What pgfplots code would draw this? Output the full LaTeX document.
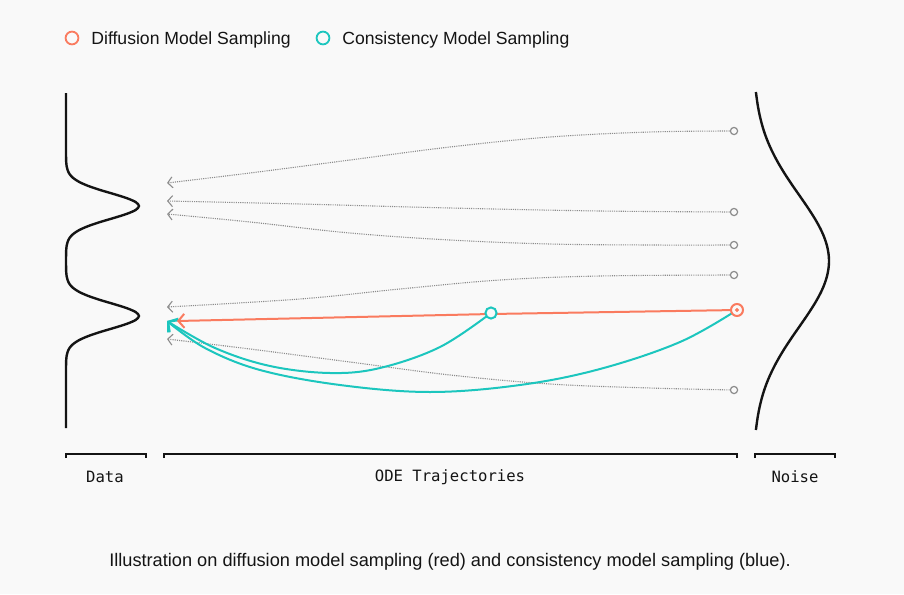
\documentclass[border=0pt]{standalone}
\usepackage{pgfplots}
\pgfplotsset{compat=1.18}
\usepackage{fontspec}
\setmainfont{Liberation Sans}
\newfontfamily\monofont{DejaVu Sans Mono}
\usetikzlibrary{arrows.meta}
\definecolor{bg}{HTML}{F9F9F9}
\definecolor{coral}{HTML}{FA7B5F}
\definecolor{teal2}{HTML}{1CC6BE}
\definecolor{traj}{HTML}{8C8C8C}
\definecolor{ink}{HTML}{141414}
\begin{document}
\begin{tikzpicture}
\begin{axis}[scale only axis, width=452pt, height=297pt,
  xmin=0, xmax=904, ymin=0, ymax=594, y dir=reverse,
  hide axis, clip=false]
\fill[bg] (axis cs:0,0) rectangle (axis cs:904,594);
% ODE trajectories (gray dotted)
\pgfplotsset{trajstyle/.style={traj, line width=0.55pt, dash pattern=on 0.55pt off 0.55pt, smooth, tension=0.6, -{Straight Barb[length=2.4pt,width=5.5pt,line width=0.55pt]}}}
\addplot[trajstyle] coordinates {(734,131) (650,132) (550,137) (450,147) (350,160) (250,173) (167,183)};
\addplot[trajstyle] coordinates {(734,212) (600,211) (450,208) (300,204) (167,201)};
\addplot[trajstyle] coordinates {(734,245) (650,245) (550,244) (450,240) (350,233) (250,222) (167,214)};
\addplot[trajstyle] coordinates {(734,275) (600,276) (500,280) (400,289) (300,299) (167,307)};
\addplot[trajstyle] coordinates {(734,390) (650,388) (550,384) (450,375) (350,362) (250,349) (167,339)};
% consistency model (teal)
\addplot[teal2, line width=1pt, smooth, tension=0.6, -{Straight Barb[length=3.5pt,width=8pt,line width=1pt]}] coordinates {(491,313) (440,347) (380,368) (330,373) (270,366) (215,348) (167,321)};
\addplot[teal2, line width=1pt, smooth, tension=0.6, -{Straight Barb[length=3.5pt,width=8pt,line width=1pt]}] coordinates {(737,310) (680,342) (600,369) (520,385) (430,392) (340,385) (260,370) (205,348) (167,321)};
% diffusion model (coral)
\addplot[coral, line width=1pt, -{Straight Barb[length=3pt,width=7pt,line width=1pt]}] coordinates {(737,310) (491,314) (177,321)};
% start markers
\addplot[only marks, mark=*, mark size=1.8pt, mark options={draw=traj, fill=bg, line width=0.6pt}] coordinates {(734,131) (734,212) (734,245) (734,275) (734,390)};
\addplot[only marks, mark=*, mark size=2.8pt, mark options={draw=teal2, fill=bg, line width=1pt}] coordinates {(491,313)};
\addplot[only marks, mark=*, mark size=3pt, mark options={draw=coral, fill=bg, line width=1pt}] coordinates {(737,310)};
\addplot[only marks, mark=*, mark size=0.8pt, mark options={draw=coral, fill=coral}] coordinates {(737,310)};
% data distribution
\addplot[ink, line width=1.2pt, smooth, tension=0.5] coordinates {(66,93) (66,150) (66.2,162) (66.6,166) (67.6,170) (69.5,174) (73.2,178) (79.3,182) (88.4,186) (100.2,190) (113.7,194) (126.4,198) (135.6,202) (139,206) (135.6,210) (126.4,214) (113.7,218) (100.2,222) (88.4,226) (79.3,230) (73.2,234) (69.5,238) (67.6,242) (66.6,246) (66.2,250) (66,261) (66.2,272) (66.6,276) (67.6,280) (69.5,284) (73.2,288) (79.3,292) (88.4,296) (100.2,300) (113.7,304) (126.4,308) (135.6,312) (139,316) (135.6,320) (126.4,324) (113.7,328) (100.2,332) (88.4,336) (79.3,340) (73.2,344) (69.5,348) (67.6,352) (66.6,356) (66.2,360) (66,372) (66,428)};
% noise distribution
\addplot[ink, line width=1.2pt, smooth, tension=0.6] coordinates {(755.9,92) (757.7,105) (760.3,118) (763.9,131) (768.8,144) (775,157) (782.4,170) (790.8,183) (799.8,196) (808.7,209) (816.8,222) (823.3,235) (827.5,248) (829,261) (827.5,274) (823.3,287) (816.8,300) (808.7,313) (799.8,326) (790.8,339) (782.4,352) (775,365) (768.8,378) (763.9,391) (760.3,404) (757.7,417) (755.9,430)};
% brackets
\addplot[ink, line width=0.6pt] coordinates {(66,458) (66,454) (146,454) (146,458)};
\addplot[ink, line width=0.6pt] coordinates {(164,458) (164,454) (737,454) (737,458)};
\addplot[ink, line width=0.6pt] coordinates {(755,458) (755,454) (835,454) (835,458)};
\node[font=\monofont\fontsize{7.8}{9}\selectfont, text=ink] at (axis cs:105,477) {Data};
\node[font=\monofont\fontsize{7.8}{9}\selectfont, text=ink] at (axis cs:450,477) {ODE Trajectories};
\node[font=\monofont\fontsize{7.8}{9}\selectfont, text=ink] at (axis cs:795,477) {Noise};
% legend
\addplot[only marks, mark=*, mark size=3.2pt, mark options={draw=coral, fill=bg, line width=0.9pt}] coordinates {(72,38)};
\addplot[only marks, mark=*, mark size=3.2pt, mark options={draw=teal2, fill=bg, line width=0.9pt}] coordinates {(323,38)};
\node[anchor=west, inner sep=0pt, font=\fontsize{8.8}{10}\selectfont, text=ink] at (axis cs:91,39.5) {Diffusion Model Sampling};
\node[anchor=west, inner sep=0pt, font=\fontsize{8.8}{10}\selectfont, text=ink] at (axis cs:342,39.5) {Consistency Model Sampling};
% caption
\node[inner sep=0pt, font=\fontsize{9.1}{11}\selectfont, text=ink] at (axis cs:450,562) {Illustration on diffusion model sampling (red) and consistency model sampling (blue).};
\end{axis}
\end{tikzpicture}
\end{document}
